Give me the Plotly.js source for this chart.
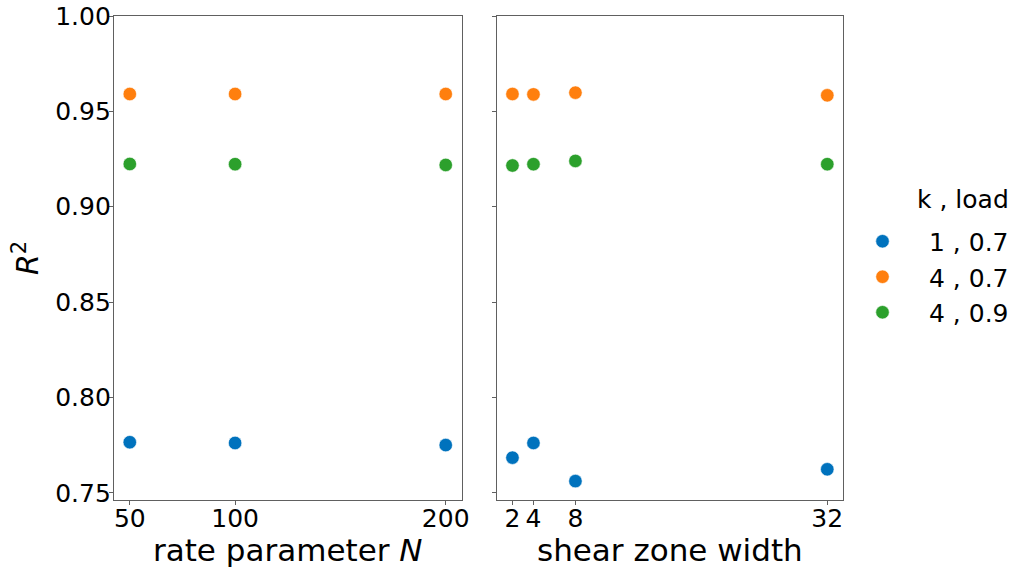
<!DOCTYPE html>
<html>
<head>
<meta charset="utf-8">
<script src="https://cdn.plot.ly/plotly-3.0.1.min.js"></script>
<style>
  html, body { margin: 0; padding: 0; background: #fff; }
  #chart { width: 1018px; height: 568px; }
</style>
</head>
<body>
<div id="chart"></div>
<script>
// Sweep over the rate parameter N
const rateN = [50, 100, 200];
// Sweep over the shear zone width
const shearWidth = [2, 4, 8, 32];

// Series labels (k , load)
const seriesLabels = ['1 , 0.7', '4 , 0.7', '4 , 0.9'];
const seriesColors = ['#0072bd', '#ff7f0e', '#2ca02c'];

// R^2 against rate parameter N
const r2RateK1L07 = [0.7765, 0.7761, 0.7750];
const r2RateK4L07 = [0.9591, 0.9591, 0.9591];
const r2RateK4L09 = [0.9224, 0.9223, 0.9219];

// R^2 against shear zone width
const r2ShearK1L07 = [0.7684, 0.7761, 0.7561, 0.7623];
const r2ShearK4L07 = [0.9591, 0.9589, 0.9598, 0.9584];
const r2ShearK4L09 = [0.9216, 0.9223, 0.9240, 0.9223];

const yTicks = [0.75, 0.80, 0.85, 0.90, 0.95, 1.00];
const yTickText = ['0.75', '0.80', '0.85', '0.90', '0.95', '1.00'];

const rateSeries = [r2RateK1L07, r2RateK4L07, r2RateK4L09];
const shearSeries = [r2ShearK1L07, r2ShearK4L07, r2ShearK4L09];

const FONT = 'DejaVu Sans, sans-serif';
const frame = '#606060';

function markerFor(i) {
  return { size: 13.5, color: seriesColors[i], line: { color: '#ffffff', width: 0.6 } };
}

const traces = [];
rateSeries.forEach((ys, i) => {
  traces.push({
    type: 'scatter', mode: 'markers', x: rateN, y: ys,
    xaxis: 'x', yaxis: 'y', name: seriesLabels[i],
    marker: markerFor(i), showlegend: true, legendgroup: 'g' + i,
    hoverinfo: 'x+y'
  });
});
shearSeries.forEach((ys, i) => {
  traces.push({
    type: 'scatter', mode: 'markers', x: shearWidth, y: ys,
    xaxis: 'x2', yaxis: 'y2', name: seriesLabels[i],
    marker: markerFor(i), showlegend: false, legendgroup: 'g' + i,
    hoverinfo: 'x+y'
  });
});

const axisCommon = {
  showgrid: false, zeroline: false, automargin: false,
  showline: true, linecolor: frame, linewidth: 1.2, mirror: true,
  ticks: 'outside', ticklen: 4, tickwidth: 1, tickcolor: frame,
  tickfont: { family: FONT, size: 25, color: '#000' }
};

const titleFont = { family: FONT, size: 31, color: '#000' };

const layout = {
  width: 1018, height: 568,
  margin: { l: 114, r: 175, t: 16, b: 68, pad: 0, autoexpand: false },
  paper_bgcolor: '#fff', plot_bgcolor: '#fff',
  font: { family: FONT, color: '#000' },
  showlegend: true,
  xaxis: Object.assign({}, axisCommon, {
    domain: [0, 0.4767], range: [42.5, 207.5],
    tickvals: rateN, ticktext: rateN.map(String), ticklabelstandoff: -8,
    title: { text: 'rate parameter <i>N</i>', font: titleFont, standoff: 4 }
  }),
  xaxis2: Object.assign({}, axisCommon, {
    domain: [0.525, 1], range: [0.5, 33.5], anchor: 'y2',
    tickvals: shearWidth, ticktext: shearWidth.map(String), ticklabelstandoff: -8,
    title: { text: 'shear zone width', font: titleFont, standoff: 4 }
  }),
  yaxis: Object.assign({}, axisCommon, {
    range: [0.7462, 1.0], tickvals: yTicks, ticktext: yTickText, ticklabelstandoff: -7,
    title: { text: '<i>R</i><sup>2</sup>', font: { family: FONT, size: 30, color: '#000' }, standoff: 7 }
  }),
  yaxis2: Object.assign({}, axisCommon, {
    range: [0.7462, 1.0], tickvals: yTicks, showticklabels: false, anchor: 'x2', matches: 'y'
  }),
  legend: {
    x: (836 - 114) / 729, xanchor: 'left',
    y: (568 - 68 - 277) / 484, yanchor: 'middle',
    font: { family: FONT, size: 25, color: '#000' },
    itemwidth: 83, tracegroupgap: 0,
    bgcolor: 'rgba(0,0,0,0)'
  },
  annotations: [{
    text: 'k , load', xref: 'paper', yref: 'paper',
    x: (916 - 114) / 729, y: (568 - 68 - 200) / 484,
    xanchor: 'left', yanchor: 'middle', showarrow: false, borderpad: 0,
    font: { family: FONT, size: 25, color: '#000' }
  }]
};

Plotly.newPlot('chart', traces, layout, { displayModeBar: false, staticPlot: true });
</script>
</body>
</html>
